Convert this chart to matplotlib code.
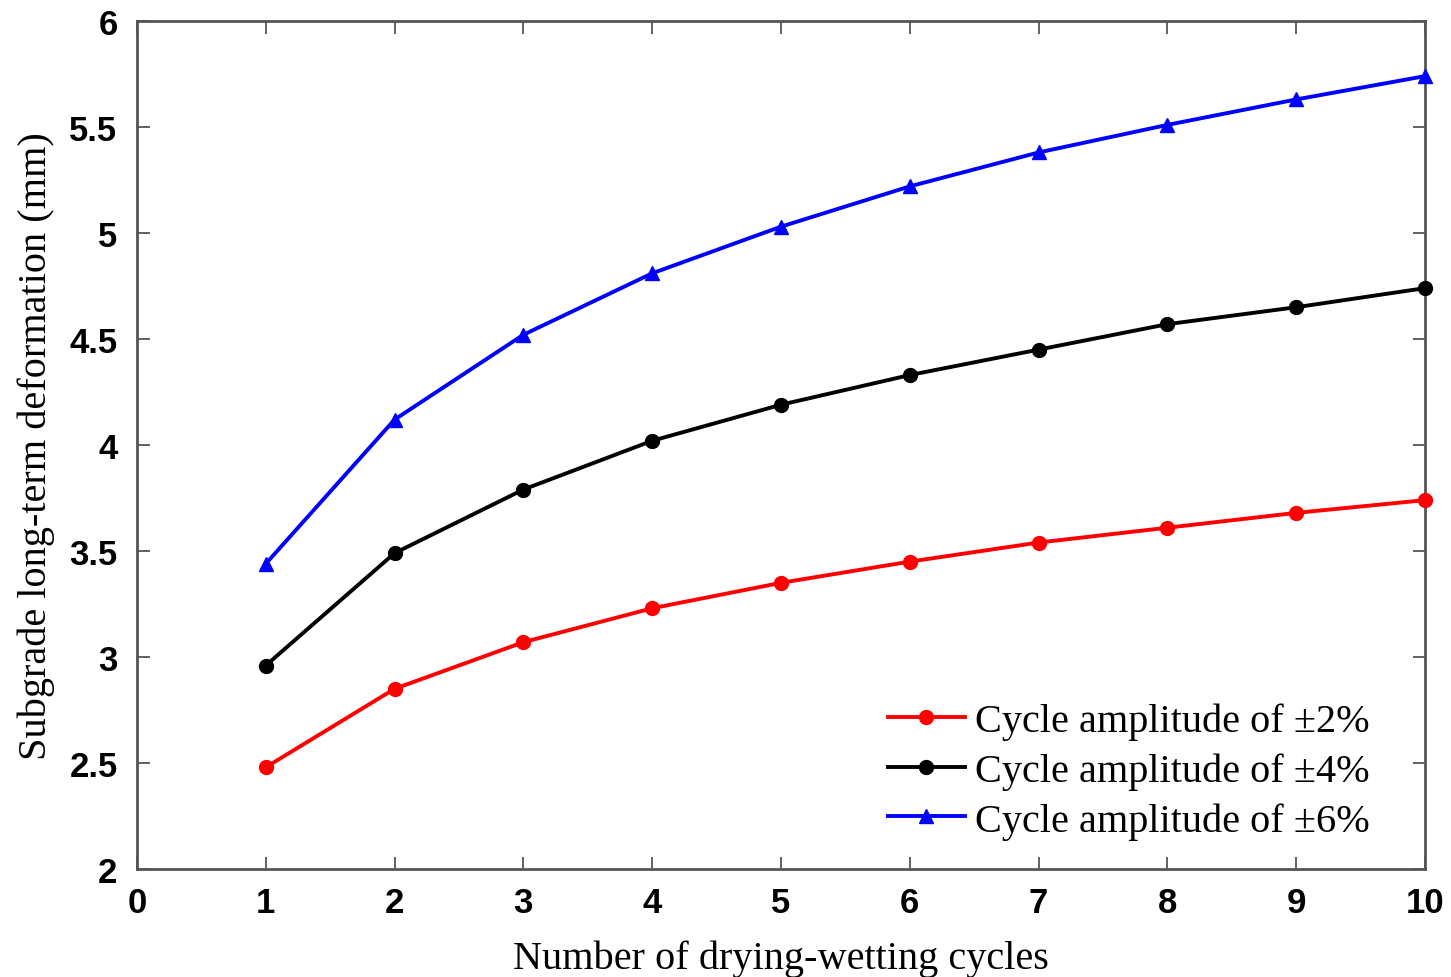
import matplotlib
matplotlib.use("Agg")
import matplotlib.pyplot as plt

cycles = [1, 2, 3, 4, 5, 6, 7, 8, 9, 10]
amp2 = [2.48, 2.85, 3.07, 3.23, 3.35, 3.45, 3.54, 3.61, 3.68, 3.74]
amp4 = [2.96, 3.49, 3.79, 4.02, 4.19, 4.33, 4.45, 4.57, 4.65, 4.74]
amp6 = [3.44, 4.12, 4.52, 4.81, 5.03, 5.22, 5.38, 5.51, 5.63, 5.74]
labels = ["Cycle amplitude of \u00b12%", "Cycle amplitude of \u00b14%", "Cycle amplitude of \u00b16%"]
xticks = [0, 1, 2, 3, 4, 5, 6, 7, 8, 9, 10]
yticks = [2, 2.5, 3, 3.5, 4, 4.5, 5, 5.5, 6]
ytick_labels = ["2", "2.5", "3", "3.5", "4", "4.5", "5", "5.5", "6"]

fig = plt.figure(figsize=(14.51, 9.78), dpi=100)
ax = fig.add_axes([0.0944, 0.1104, 0.8877, 0.8671])

ax.plot(cycles, amp2, color="#ff0000", lw=2.8, marker="o", ms=10, label=labels[0], clip_on=False, zorder=3)
ax.plot(cycles, amp4, color="#000000", lw=2.8, marker="o", ms=10, label=labels[1], clip_on=False, zorder=3)
ax.plot(cycles, amp6, color="#0000ff", lw=2.8, marker="^", ms=10, label=labels[2], clip_on=False, zorder=3)

ax.set_xlim(0, 10)
ax.set_ylim(2, 6)
ax.set_xticks(xticks)
ax.set_yticks(yticks)
ax.set_yticklabels(ytick_labels)
for lab in ax.get_xticklabels() + ax.get_yticklabels():
    lab.set_fontfamily("Liberation Sans")
    lab.set_fontsize(25)
    lab.set_fontweight("bold")
ax.tick_params(direction="in", top=True, right=True, length=9, width=1.3, color="#555555")
ax.tick_params(axis="x", pad=12)
ax.tick_params(axis="y", pad=14)
for sp in ax.spines.values():
    sp.set_color("#555555")
    sp.set_linewidth(2.0)

ax.set_xlabel("Number of drying-wetting cycles", fontfamily="Liberation Serif", fontsize=29, labelpad=15)
ax.set_ylabel("Subgrade long-term deformation (mm)", fontfamily="Liberation Serif", fontsize=29, labelpad=10)

leg = ax.legend(loc="lower right", bbox_to_anchor=(0.985, -0.008), frameon=False,
                prop={"family": "Liberation Serif", "size": 29}, handlelength=1.9,
                handletextpad=0.25, labelspacing=0.3)

fig.savefig("out.png", dpi=100)
